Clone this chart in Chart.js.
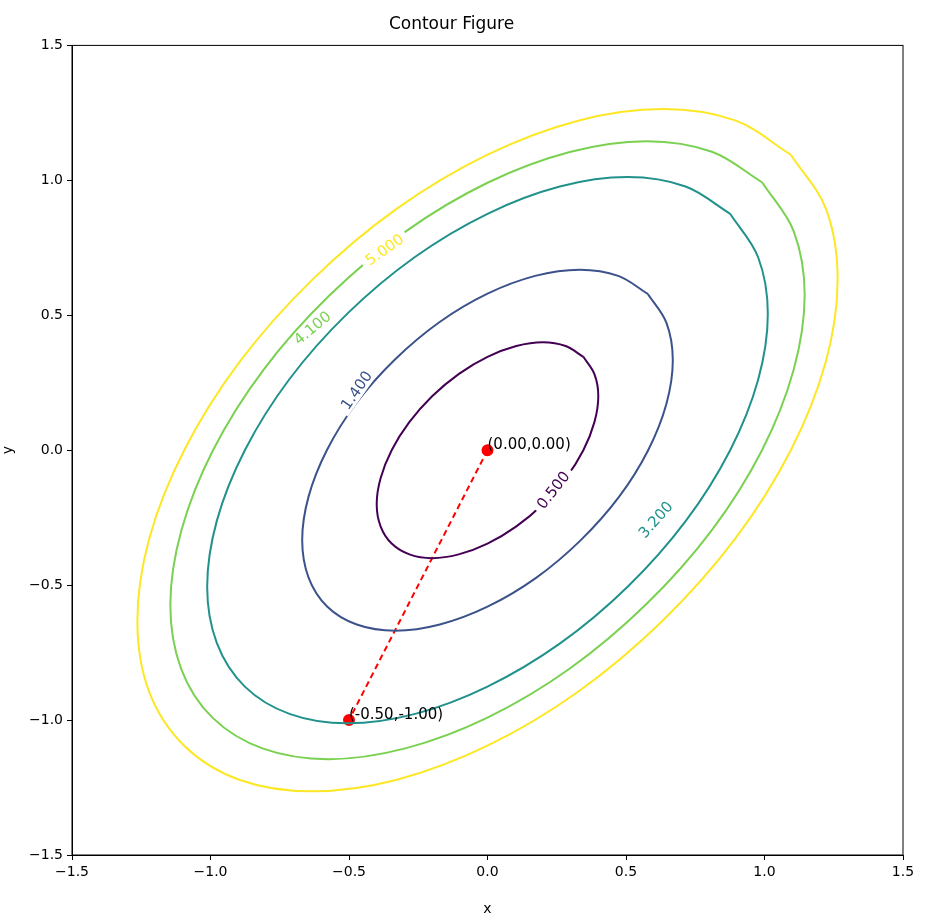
<!DOCTYPE html>
<html>
<head>
<script src="https://cdn.jsdelivr.net/npm/chart.js@4"></script>
<style>body{margin:0;background:#fff}</style>
</head>
<body>
<div style="width:940px;height:920px"><canvas id="c"></canvas></div>
<script>
// contour levels; half of each closed contour (other half is point-symmetric)
const levels = ['0.500', '1.400', '3.200', '4.100', '5.000']
const colors = ['#440154', '#3b528b', '#21918c', '#7ad151', '#fde725']
const h05 = [[.346,.346],[.386,.282],[.4,.2],[.386,.104],[.346,0],[.283,-.103],[.2,-.2],[.103,-.283],[0,-.346],[-.104,-.386],[-.2,-.4],[-.282,-.386]]
const h14 = [[.579,.579],[.646,.472],[.669,.333],[.646,.172],[.58,0],[.474,-.174],[.335,-.335],[.174,-.474],[0,-.58],[-.172,-.646],[-.333,-.669],[-.472,-.646]]
const h32 = [[.876,.876],[.977,.715],[1.012,.506],[.977,.261],[.876,0],[.716,-.262],[.506,-.506],[.262,-.716],[0,-.876],[-.261,-.977],[-.506,-1.012],[-.715,-.977]]
const h41 = [[.992,.992],[1.106,.81],[1.145,.573],[1.105,.297],[.991,0],[.81,-.296],[.572,-.572],[.296,-.81],[0,-.991],[-.297,-1.105],[-.573,-1.145],[-.81,-1.106]]
const h50 = [[1.095,1.095],[1.222,.894],[1.264,.632],[1.221,.327],[1.095,0],[.895,-.327],[.632,-.632],[.327,-.895],[0,-1.095],[-.327,-1.221],[-.632,-1.264],[-.894,-1.222]]
const halves = [h05, h14, h32, h41, h50]
const labelPos = [[0.24,-0.15,-52],[-0.47,0.22,-55],[0.61,-0.26,-48],[-0.63,0.45,-40],[-0.37,0.74,-35]]
const pts = [[0,0],[-0.5,-1]]
const ptLabels = ['(0.00,0.00)', '(-0.50,-1.00)']
const ticks = [-1.5, -1, -0.5, 0, 0.5, 1, 1.5]

const datasets = halves.map((h, i) => {
    const loop = h.concat(h.map(p => [-p[0], -p[1]]))
    loop.push(h[0])
    return {
        data: loop.map(p => ({x: p[0], y: p[1]})),
        borderColor: colors[i], borderWidth: 2, pointRadius: 0, tension: 0.35, showLine: true, fill: false
    }
})
datasets.push({
    data: pts.map(p => ({x: p[0], y: p[1]})),
    borderColor: 'red', backgroundColor: 'red', borderWidth: 2, borderDash: [6, 4],
    pointRadius: 5, showLine: true, tension: 0
})

const labelPlugin = {
    id: 'labels',
    afterDatasetsDraw(chart) {
        const ctx = chart.ctx, xs = chart.scales.x, ys = chart.scales.y
        ctx.save()
        ctx.font = '15px "DejaVu Sans"'
        ctx.textAlign = 'center'
        ctx.textBaseline = 'middle'
        labelPos.forEach((l, i) => {
            ctx.save()
            ctx.translate(xs.getPixelForValue(l[0]), ys.getPixelForValue(l[1]))
            ctx.rotate(l[2] * Math.PI / 180)
            const w = ctx.measureText(levels[i]).width
            ctx.fillStyle = '#fff'
            ctx.fillRect(-w / 2 - 5, -7, w + 10, 14)
            ctx.fillStyle = colors[i]
            ctx.fillText(levels[i], 0, 0)
            ctx.restore()
        })
        ctx.textAlign = 'left'
        ctx.fillStyle = '#000'
        pts.forEach((p, i) => {
            ctx.fillText(ptLabels[i], xs.getPixelForValue(p[0]), ys.getPixelForValue(p[1]) - 5)
        })
        ctx.restore()
    }
}

const box = {id: 'box', afterDraw(chart) {
    const a = chart.chartArea, ctx = chart.ctx
    ctx.save(); ctx.strokeStyle = '#000'; ctx.lineWidth = 1
    ctx.strokeRect(a.left, a.top, a.right - a.left, a.bottom - a.top); ctx.restore()
}}

const fmt = v => (Math.round(v * 10) / 10).toFixed(1).replace('-', '\u2212')
const axis = (side) => ({
    type: 'linear', min: -1.5, max: 1.5,
    afterBuildTicks: s => { s.ticks = ticks.map(v => ({value: v})) },
    ticks: {callback: fmt, color: '#000', font: {size: 14, family: 'DejaVu Sans'}, maxRotation: 0, padding: 4},
    grid: {drawOnChartArea: false, color: '#000', tickLength: 5},
    border: {color: '#000', width: 1},
    title: {display: true, text: side, color: '#000', font: {size: 14, family: 'DejaVu Sans'}, padding: 2}
})
const xAxis = axis('x')
xAxis.afterFit = s => { s.height = 65 }
const yAxis = axis('y')
yAxis.afterFit = s => { s.width = 72 }
yAxis.title.padding = {top: 0, bottom: 0}

new Chart(document.querySelector('#c'), {
    type: 'scatter',
    data: {datasets},
    plugins: [labelPlugin, box],
    options: {
        responsive: true, maintainAspectRatio: false, animation: false,
        layout: {padding: {left: 0, right: 37, top: 0, bottom: 0}},
        plugins: {
            legend: {display: false}, tooltip: {enabled: false},
            title: {display: true, text: 'Contour Figure', color: '#000', font: {size: 17, family: 'DejaVu Sans', weight: 'normal'}, padding: {top: 14, bottom: 11}}
        },
        scales: {x: xAxis, y: yAxis}
    }
})
</script>
</body>
</html>
